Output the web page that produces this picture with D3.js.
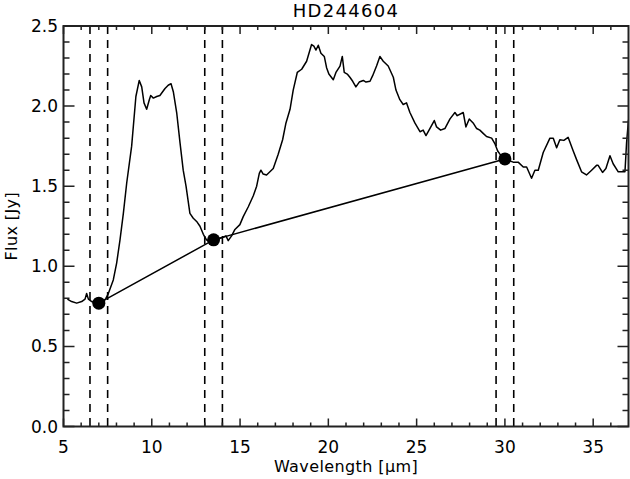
<!DOCTYPE html>
<html>
<head>
<meta charset="utf-8">
<script src="https://cdn.jsdelivr.net/npm/d3@7"></script>
<style>
  body { margin: 0; background: #fff; }
  svg { display: block; }
  text { font-family: "DejaVu Sans", sans-serif; fill: #000; }
</style>
</head>
<body>
<svg id="chart"></svg>
<script>
// spectrum (wavelength in micron, flux in Jy)
const wavelength = [5.22, 5.46, 5.75, 6.03, 6.22, 6.31, 6.41, 6.6, 6.8, 7.0, 7.2, 7.4, 7.54, 7.82, 8.01, 8.2, 8.39, 8.58,
  8.86, 9.1, 9.29, 9.43, 9.56, 9.71, 9.86, 9.94, 10.09, 10.28, 10.46, 10.75, 10.93, 11.09, 11.22, 11.41, 11.6, 11.78,
  11.94, 12.16, 12.35, 12.54, 12.73, 12.92, 13.1, 13.3, 13.5, 13.7, 14.0, 14.2, 14.33, 14.52, 14.71, 14.99, 15.18,
  15.46, 15.75, 15.94, 16.09, 16.18, 16.31, 16.5, 16.69, 16.88, 17.16, 17.41, 17.6, 17.83, 18.01, 18.24, 18.49, 18.77,
  19.05, 19.18, 19.3, 19.43, 19.58, 19.77, 19.9, 20.03, 20.28, 20.43, 20.66, 20.79, 20.9, 21.07, 21.22, 21.38, 21.56,
  21.75, 21.98, 22.13, 22.36, 22.51, 22.73, 22.92, 23.11, 23.39, 23.68, 23.83, 24.05, 24.24, 24.43, 24.62, 24.9, 25.19,
  25.37, 25.53, 25.75, 26.0, 26.13, 26.36, 26.6, 26.89, 27.17, 27.3, 27.64, 27.79, 27.98, 28.2, 28.4, 28.58, 28.77,
  28.96, 29.25, 29.43, 29.59, 29.72, 29.9, 30.1, 30.47, 30.75, 31.04, 31.23, 31.51, 31.7, 31.89, 32.17, 32.55, 32.74,
  32.93, 33.11, 33.34, 33.58, 33.87, 34.06, 34.34, 34.62, 34.91, 35.19, 35.28, 35.53, 35.72, 35.95, 36.13, 36.42,
  36.8, 36.89, 37.0];
const flux = [0.795, 0.78, 0.77, 0.78, 0.795, 0.83, 0.795, 0.78, 0.77, 0.765, 0.77, 0.8, 0.83, 0.915, 1.02, 1.165, 1.33, 1.52,
  1.75, 2.06, 2.16, 2.12, 2.02, 1.98, 2.04, 2.066, 2.05, 2.06, 2.066, 2.11, 2.13, 2.14, 2.09, 1.96, 1.77, 1.6,
  1.5, 1.33, 1.3, 1.28, 1.25, 1.2, 1.165, 1.15, 1.16, 1.17, 1.18, 1.19, 1.16, 1.19, 1.23, 1.26, 1.31,
  1.37, 1.44, 1.5, 1.58, 1.6, 1.576, 1.57, 1.59, 1.61, 1.7, 1.79, 1.895, 1.98, 2.1, 2.21, 2.23, 2.28,
  2.384, 2.374, 2.35, 2.38, 2.33, 2.31, 2.24, 2.2, 2.165, 2.21, 2.25, 2.31, 2.21, 2.2, 2.18, 2.155, 2.12,
  2.15, 2.16, 2.15, 2.155, 2.19, 2.25, 2.31, 2.28, 2.25, 2.18, 2.1, 2.04, 2.01, 2.02, 1.96, 1.895, 1.84,
  1.85, 1.816, 1.86, 1.91, 1.87, 1.85, 1.86, 1.92, 1.96, 1.94, 1.96, 1.87, 1.92, 1.895, 1.86, 1.85, 1.83,
  1.81, 1.8, 1.766, 1.72, 1.7, 1.675, 1.665, 1.65, 1.65, 1.62, 1.62, 1.55, 1.6, 1.6, 1.71, 1.8, 1.8,
  1.74, 1.79, 1.786, 1.805, 1.72, 1.666, 1.59, 1.57, 1.6, 1.63, 1.63, 1.586, 1.61, 1.69, 1.64, 1.59,
  1.59, 1.77, 1.915];

// continuum anchor points
const contWave = [7.0, 13.5, 30.0];
const contFlux = [0.77, 1.165, 1.67];

// continuum window edges (dashed)
const windowEdges = [6.5, 7.5, 13, 14, 29.5, 30.5];

const xTicks = [5, 10, 15, 20, 25, 30, 35];
const yTicks = [0.0, 0.5, 1.0, 1.5, 2.0, 2.5];

const width = 630;
const height = 479;
const padL = 63.5, padR = 628.5, padT = 26, padB = 426.5;

const x = d3.scaleLinear().domain([5, 37]).range([padL, padR]);
const y = d3.scaleLinear().domain([0, 2.5]).range([padB, padT]);

const svg = d3.select("#chart")
    .attr("width", width)
    .attr("height", height);

svg.append("defs").append("clipPath")
    .attr("id", "plotclip")
    .append("rect")
    .attr("x", padL).attr("y", padT)
    .attr("width", padR - padL).attr("height", padB - padT);

const plot = svg.append("g").attr("clip-path", "url(#plotclip)");

// dashed windows
plot.selectAll("line.win")
    .data(windowEdges)
    .enter()
    .append("line")
    .attr("class", "win")
    .attr("x1", d => x(d)).attr("x2", d => x(d))
    .attr("y1", y(2.5)).attr("y2", y(0))
    .attr("stroke", "#000")
    .attr("stroke-width", 1.6)
    .attr("stroke-dasharray", "8,6");

// spectrum
const spec = wavelength.map((w, i) => [w, flux[i]]);
plot.append("path")
    .datum(spec)
    .attr("fill", "none")
    .attr("stroke", "#000")
    .attr("stroke-width", 1.5)
    .attr("stroke-linejoin", "round")
    .attr("d", d3.line().x(d => x(d[0])).y(d => y(d[1])));

// continuum
const cont = contWave.map((w, i) => [w, contFlux[i]]);
plot.append("path")
    .datum(cont)
    .attr("fill", "none")
    .attr("stroke", "#000")
    .attr("stroke-width", 1.5)
    .attr("d", d3.line().x(d => x(d[0])).y(d => y(d[1])));

plot.selectAll("circle")
    .data(cont)
    .enter()
    .append("circle")
    .attr("cx", d => x(d[0]))
    .attr("cy", d => y(d[1]))
    .attr("r", 6.5)
    .attr("fill", "#000");

// frame
svg.append("rect")
    .attr("x", padL).attr("y", padT)
    .attr("width", padR - padL).attr("height", padB - padT)
    .attr("fill", "none")
    .attr("stroke", "#222")
    .attr("stroke-width", 2);

// ticks pointing inward on all four sides, drawn as one path
const xMinor = d3.range(6, 37, 1).filter(v => v % 5 !== 0);
const yMinor = d3.range(1, 25, 1).filter(v => v % 5 !== 0).map(v => v / 10);

const xTickSet = xTicks.map(v => [v, 8]).concat(xMinor.map(v => [v, 4]));
const yTickSet = yTicks.map(v => [v, 11]).concat(yMinor.map(v => [v, 6]));

let tickPath = "";
xTickSet.forEach(d => {
    const px = x(d[0]);
    tickPath += `M${px},${padB}V${padB - d[1]}M${px},${padT}V${padT + d[1]}`;
});
yTickSet.forEach(d => {
    const py = y(d[0]);
    tickPath += `M${padL},${py}H${padL + d[1]}M${padR},${py}H${padR - d[1]}`;
});
svg.append("path")
    .attr("d", tickPath)
    .attr("fill", "none")
    .attr("stroke", "#222")
    .attr("stroke-width", 1.5);

// tick labels
svg.append("g").selectAll("text")
    .data(xTicks)
    .enter()
    .append("text")
    .attr("x", d => x(d))
    .attr("y", 453)
    .attr("text-anchor", "middle")
    .style("font-size", "17px")
    .text(d => d3.format("d")(d));

svg.append("g").selectAll("text")
    .data(yTicks)
    .enter()
    .append("text")
    .attr("x", 58)
    .attr("y", d => y(d) + 6)
    .attr("text-anchor", "end")
    .style("font-size", "17px")
    .text(d => d3.format(".1f")(d));

// titles
svg.append("text")
    .attr("x", (padL + padR) / 2)
    .attr("y", 17)
    .attr("text-anchor", "middle")
    .style("font-size", "18px")
    .style("letter-spacing", "1.3px")
    .text("HD244604");

svg.append("text")
    .attr("x", (padL + padR) / 2)
    .attr("y", 472)
    .attr("text-anchor", "middle")
    .style("font-size", "16px")
    .style("letter-spacing", "0.4px")
    .text("Wavelength [μm]");

svg.append("text")
    .attr("transform", `translate(17,${(padT + padB) / 2}) rotate(-90)`)
    .attr("text-anchor", "middle")
    .style("font-size", "16px")
    .style("letter-spacing", "0.4px")
    .text("Flux [Jy]");
</script>
</body>
</html>
